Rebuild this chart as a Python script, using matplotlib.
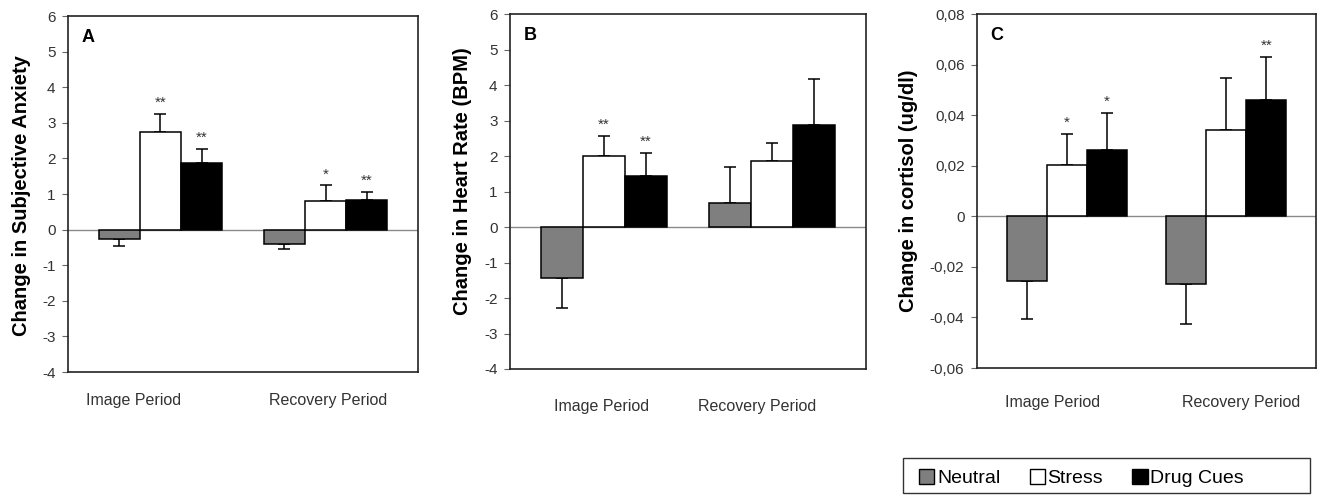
import matplotlib
matplotlib.use("Agg")
import matplotlib.pyplot as plt
from matplotlib.patches import Patch, Rectangle
from matplotlib.ticker import FuncFormatter
import numpy as np

plt.rcParams['font.family'] = ['Liberation Sans', 'DejaVu Sans']

# ---------------- data ----------------
periods = ["Image Period", "Recovery Period"]
conditions = ["Neutral", "Stress", "Drug Cues"]

# Panel A: subjective anxiety
anx_neutral = [-0.27, -0.40]
anx_stress = [2.73, 0.81]
anx_drug = [1.87, 0.84]
anx_neutral_err = [0.20, 0.14]
anx_stress_err = [0.52, 0.43]
anx_drug_err = [0.40, 0.22]
anx_stress_sig = ["**", "*"]
anx_drug_sig = ["**", "**"]

# Panel B: heart rate
hr_neutral = [-1.44, 0.68]
hr_stress = [1.99, 1.85]
hr_drug = [1.43, 2.87]
hr_neutral_err = [0.84, 1.01]
hr_stress_err = [0.57, 0.53]
hr_drug_err = [0.65, 1.30]
hr_stress_sig = ["**", ""]
hr_drug_sig = ["**", ""]

# Panel C: cortisol
cort_neutral = [-0.0257, -0.0267]
cort_stress = [0.0201, 0.0342]
cort_drug = [0.0263, 0.0460]
cort_neutral_err = [0.0149, 0.0158]
cort_stress_err = [0.0124, 0.0206]
cort_drug_err = [0.0147, 0.0169]
cort_stress_sig = ["*", ""]
cort_drug_sig = ["*", "**"]

colors = ["#7f7f7f", "#ffffff", "#000000"]

# ---------------- layout ----------------
W, H = 1317, 495
fig = plt.figure(figsize=(W / 100, H / 100), dpi=100)


def ax_px(l, r, t, b):
    return fig.add_axes([l / W, (H - b) / H, (r - l) / W, (b - t) / H])


panels = [
    dict(rect=(68, 418, 16, 372), letter="A", ylabel="Change in Subjective Anxiety",
         ylab_xy=(22, 196), ylim=(-4, 6), yticks=np.arange(-4, 7, 1),
         vals=[anx_neutral, anx_stress, anx_drug],
         errs=[anx_neutral_err, anx_stress_err, anx_drug_err],
         sigs=[["", ""], anx_stress_sig, anx_drug_sig],
         xlab=[(0.186, 400), (0.743, 400)], fmt="int"),
    dict(rect=(510, 866, 14, 369), letter="B", ylabel="Change in Heart Rate (BPM)",
         ylab_xy=(462, 181), ylim=(-4, 6), yticks=np.arange(-4, 7, 1),
         vals=[hr_neutral, hr_stress, hr_drug],
         errs=[hr_neutral_err, hr_stress_err, hr_drug_err],
         sigs=[["", ""], hr_stress_sig, hr_drug_sig],
         xlab=[(0.256, 407), (0.694, 407)], fmt="int"),
    dict(rect=(977, 1316, 14, 368), letter="C", ylabel="Change in cortisol (ug/dl)",
         ylab_xy=(908, 191), ylim=(-0.06, 0.08), yticks=np.arange(-0.06, 0.081, 0.02),
         vals=[cort_neutral, cort_stress, cort_drug],
         errs=[cort_neutral_err, cort_stress_err, cort_drug_err],
         sigs=[["", ""], cort_stress_sig, cort_drug_sig],
         xlab=[(0.224, 403), (0.779, 403)], fmt="comma"),
]

bar_w = 0.25
x = np.arange(len(periods))


def comma_fmt(v, pos):
    if abs(v) < 1e-9:
        return "0"
    return f"{v:.2f}".replace(".", ",")


for p in panels:
    l, r, t, b = p["rect"]
    ax = ax_px(l, r, t, b)
    for i, (vals, errs, sigs) in enumerate(zip(p["vals"], p["errs"], p["sigs"])):
        vals = np.array(vals)
        errs = np.array(errs)
        xpos = x + (i - 1) * bar_w
        ax.bar(xpos, vals, width=bar_w, color=colors[i], edgecolor="black",
               linewidth=1.1, zorder=3)
        lower = np.where(vals < 0, errs, 0)
        upper = np.where(vals >= 0, errs, 0)
        ax.errorbar(xpos, vals, yerr=[lower, upper], fmt="none", ecolor="black",
                    elinewidth=1.1, capsize=4.5, capthick=1.1, zorder=2)
        for xp, v, e, s in zip(xpos, vals, errs, sigs):
            if s:
                ax.annotate(s, (xp, v + e), xytext=(0, 3), textcoords="offset points",
                            ha="center", va="bottom", fontsize=11, color="#333333")
    ax.axhline(0, color="#8a8a8a", linewidth=1.0, zorder=1)
    ax.set_xlim(-0.56, 1.56)
    ax.set_ylim(*p["ylim"])
    ax.set_yticks(p["yticks"])
    if p["fmt"] == "comma":
        ax.yaxis.set_major_formatter(FuncFormatter(comma_fmt))
    else:
        ax.yaxis.set_major_formatter(FuncFormatter(lambda v, pos: f"{v:.0f}"))
    ax.set_xticks([])
    ax.tick_params(axis="y", direction="out", length=4, width=0.8, color="#666666",
                   labelsize=11, labelcolor="#333333", pad=5)
    for sp in ax.spines.values():
        sp.set_linewidth(1.2)
        sp.set_color("#222222")
    ax.text(0.04, 0.94, p["letter"], transform=ax.transAxes, fontsize=13,
            fontweight="bold", ha="left", va="center")
    for (fx, py), lab in zip(p["xlab"], periods):
        fig.text((l + fx * (r - l)) / W, (H - py) / H, lab, ha="center", va="center",
                 fontsize=11.5, color="#333333")
    lx, ly = p["ylabel_xy"] if "ylabel_xy" in p else p["ylab_xy"]
    fig.text(lx / W, (H - ly) / H, p["ylabel"], rotation=90, ha="center", va="center",
             fontsize=14.5, fontweight="bold")

# legend frame (Excel-style, wider than its content)
fig.patches.append(Rectangle((903 / W, (H - 493) / H), (1310 - 903) / W, 35 / H,
                             transform=fig.transFigure, facecolor="white",
                             edgecolor="#333333", linewidth=1.0, zorder=0))

handles = [Patch(facecolor=c, edgecolor="black", linewidth=1.0) for c in colors]
leg = fig.legend(handles, conditions, loc="center left",
                 bbox_to_anchor=(919 / W, (H - 478) / H),
                 ncol=3, fontsize=14, frameon=False,
                 handlelength=0.78, handleheight=0.78, handletextpad=0.15,
                 columnspacing=1.5, borderpad=0, borderaxespad=0)

fig.savefig("out.png", dpi=100)
